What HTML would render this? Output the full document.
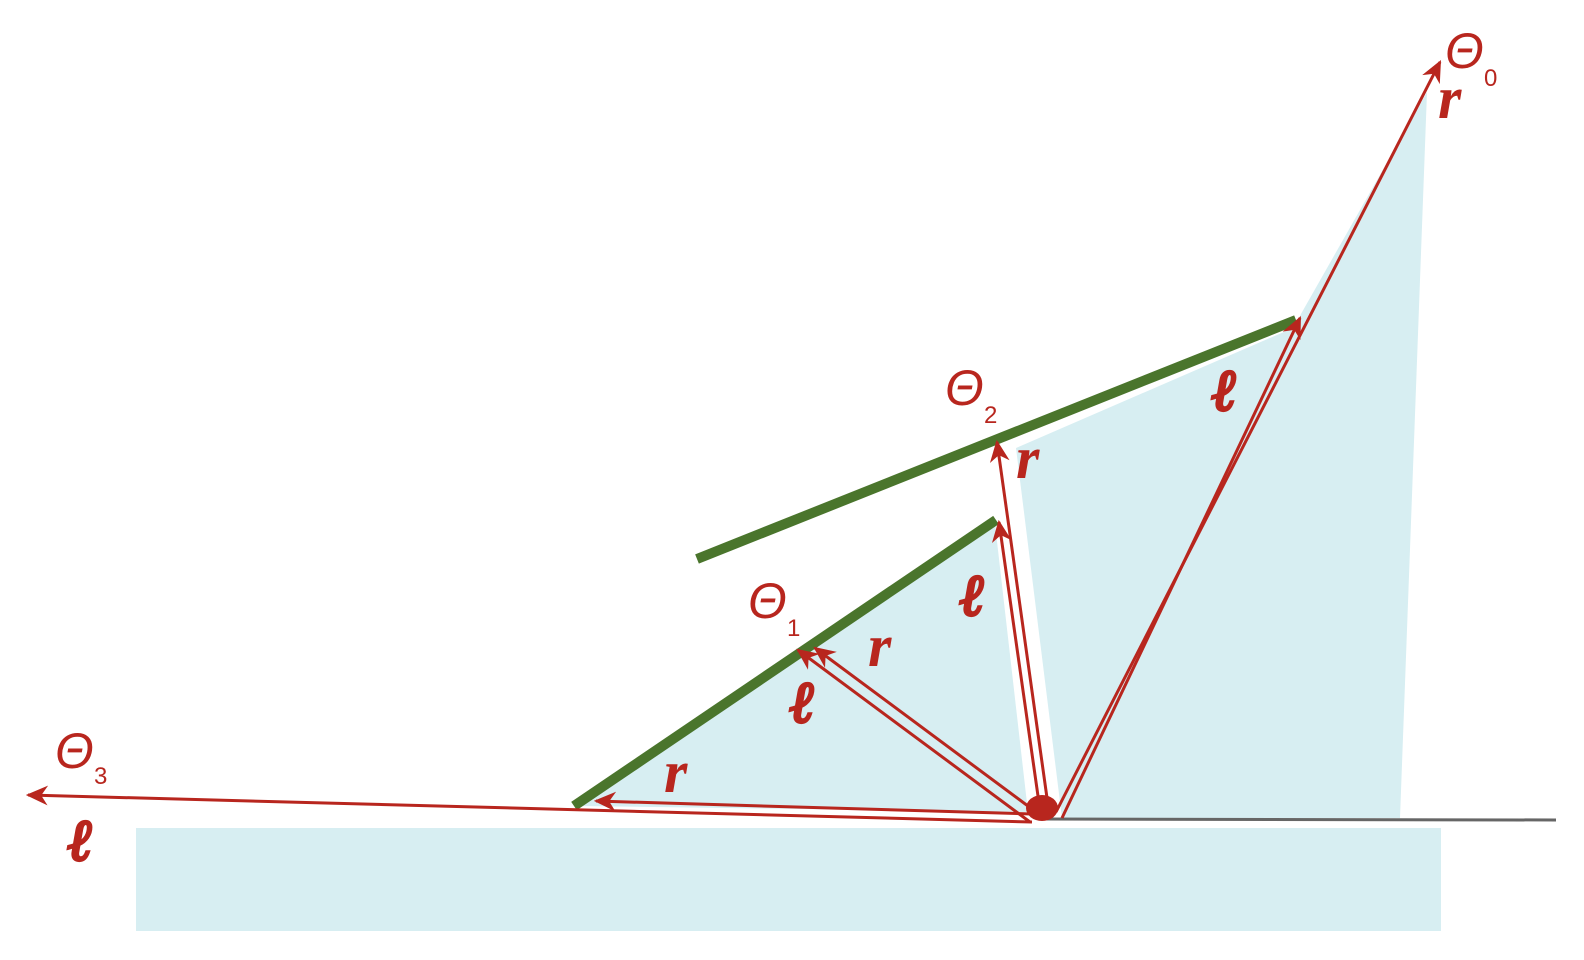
<!DOCTYPE html>
<html><head><meta charset="utf-8"><style>
body{margin:0;background:#fff}
svg{display:block}
.t{font-family:"Liberation Sans",sans-serif;font-style:italic;fill:#b8261e;font-size:50px}
.s{font-family:"Liberation Sans",sans-serif;fill:#b8261e;font-size:24px}
.b{font-family:"Liberation Serif",serif;font-style:italic;font-weight:bold;fill:#b8261e;font-size:60px}
.l{font-family:"DejaVu Serif","Liberation Serif",serif;font-style:italic;font-weight:bold;fill:#b8261e;stroke:#b8261e;stroke-width:3;font-size:58px}
</style></head><body>
<svg width="1584" height="960" viewBox="0 0 1584 960">
<defs><marker id="ah" viewBox="0 0 20 20" refX="18" refY="10" markerWidth="22" markerHeight="22" markerUnits="userSpaceOnUse" orient="auto"><path d="M0,1 L20,10 L0,19 L6,10 Z" fill="#b8261e"/></marker></defs>
<rect x="136" y="828" width="1305" height="103" fill="#d7eef2"/>
<polygon points="580,806 995,524 1028,812" fill="#d7eef2"/>
<polygon points="1016,448 1293,328 1427,92 1400,818 1062,818" fill="#d7eef2"/>
<line x1="1045" y1="819" x2="1556" y2="820" stroke="#666" stroke-width="3"/>
<line x1="697" y1="559" x2="1296" y2="320" stroke="#4a752c" stroke-width="10"/>
<line x1="574" y1="806" x2="996" y2="520" stroke="#4a752c" stroke-width="10"/>
<g stroke="#b8261e" stroke-width="3" fill="none" marker-end="url(#ah)">
<line x1="1056" y1="812" x2="1440" y2="62"/>
<line x1="1062" y1="818" x2="1300" y2="318"/>
<line x1="1048" y1="805" x2="997" y2="442"/>
<line x1="1040" y1="810" x2="999" y2="522"/>
<line x1="1036" y1="812" x2="815" y2="648"/>
<line x1="1030" y1="822" x2="798" y2="650"/>
<line x1="1032" y1="822" x2="28" y2="795"/>
<line x1="1032" y1="814" x2="596" y2="801"/>
</g>
<ellipse cx="1042" cy="808" rx="16" ry="13" fill="#b8261e"/>
<text class="t" x="1445" y="68">Θ</text><text class="s" x="1484" y="86">0</text>
<text class="b" x="1438" y="118">r</text>
<text class="t" x="945" y="405">Θ</text><text class="s" x="984" y="423">2</text>
<text class="b" x="1016" y="478">r</text>
<text class="l" x="1212" y="410">ℓ</text>
<text class="l" x="960" y="615">ℓ</text>
<text class="t" x="748" y="618">Θ</text><text class="s" x="787" y="636">1</text>
<text class="b" x="868" y="666">r</text>
<text class="l" x="790" y="722">ℓ</text>
<text class="b" x="664" y="792">r</text>
<text class="t" x="55" y="768">Θ</text><text class="s" x="94" y="784">3</text>
<text class="l" x="68" y="860">ℓ</text>
</svg>
</body></html>
